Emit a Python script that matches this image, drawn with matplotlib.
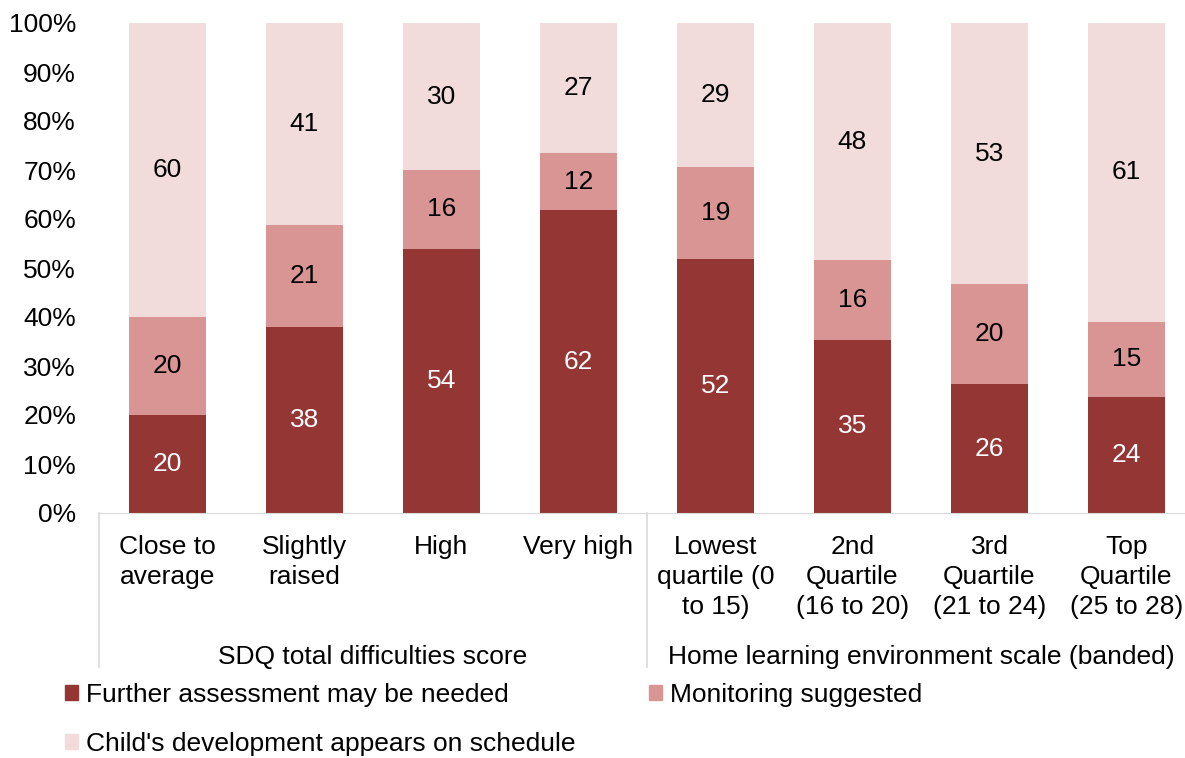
import matplotlib.pyplot as plt
import matplotlib.transforms as mtransforms
from matplotlib.patches import Patch
import numpy as np

plt.rcParams['font.family'] = ['Liberation Sans', 'DejaVu Sans']

# Donnees
categories = ["Close to\naverage", "Slightly\nraised", "High", "Very high",
              "Lowest\nquartile (0\nto 15)", "2nd\nQuartile\n(16 to 20)",
              "3rd\nQuartile\n(21 to 24)", "Top\nQuartile\n(25 to 28)"]
groups = ["SDQ total difficulties score", "Home learning environment scale (banded)"]
group_sizes = [4, 4]
further = [19.9, 37.9, 53.9, 61.8, 51.8, 35.4, 26.3, 23.7]
monitor = [20.1, 20.9, 16.1, 11.6, 18.8, 16.2, 20.4, 15.3]
schedule = [60.0, 41.2, 30.0, 26.6, 29.4, 48.4, 53.3, 61.0]
series_names = ["Further assessment may be needed", "Monitoring suggested",
                "Child's development appears on schedule"]
colors = ["#943634", "#D99594", "#F2DCDB"]
label_colors = ["white", "black", "black"]

fs = 19

fig = plt.figure(figsize=(11.85, 7.58), dpi=100)
ax = fig.add_axes([99 / 1185, 1 - 513 / 758, 1096 / 1185, 490 / 758])

x = np.arange(len(categories))
bottom = np.zeros(len(categories))
for vals, col, lc in zip([further, monitor, schedule], colors, label_colors):
    vals = np.array(vals)
    ax.bar(x, vals, 0.555, bottom=bottom, color=col)
    for xi, b, v in zip(x, bottom, vals):
        ax.text(xi, b + v / 2, str(int(round(v))), ha="center", va="center",
                fontsize=fs, color=lc)
    bottom += vals

ax.set_xlim(-0.5, len(categories) - 0.5)
ax.set_ylim(0, 100)
ax.set_yticks(range(0, 101, 10))
ax.set_yticklabels([f"{v}%" for v in range(0, 101, 10)], fontsize=fs)
ax.set_xticks(x)
ax.set_xticklabels(categories, fontsize=fs, linespacing=1.32, va="top")
ax.tick_params(axis="both", length=0)
ax.tick_params(axis="x", pad=16)
ax.tick_params(axis="y", pad=16.5)
for s in ["top", "right", "left"]:
    ax.spines[s].set_visible(False)
ax.spines["bottom"].set_color("#D9D9D9")

# Separateurs et noms de groupes
trans = mtransforms.blended_transform_factory(ax.transData, ax.transAxes)
edges = np.cumsum([0] + group_sizes) - 0.5
for e in edges:
    ax.plot([e, e], [0, -0.315], transform=trans, color="#D9D9D9", lw=1.2, clip_on=False)
for g, a, b in zip(groups, edges[:-1], edges[1:]):
    ax.text((a + b) / 2, -0.294, g, transform=trans, ha="center", va="center", fontsize=fs)

handles = [Patch(color=c) for c in colors]
fig.legend([handles[0], handles[2], handles[1]],
           [series_names[0], series_names[2], series_names[1]],
           ncol=2, loc="upper left", bbox_to_anchor=(41 / 1185, 1 - 659 / 758),
           frameon=False, fontsize=fs, handlelength=0.5, handleheight=0.5,
           handletextpad=0.3, columnspacing=2.8, labelspacing=0.95)

fig.savefig("out.png", dpi=100)
